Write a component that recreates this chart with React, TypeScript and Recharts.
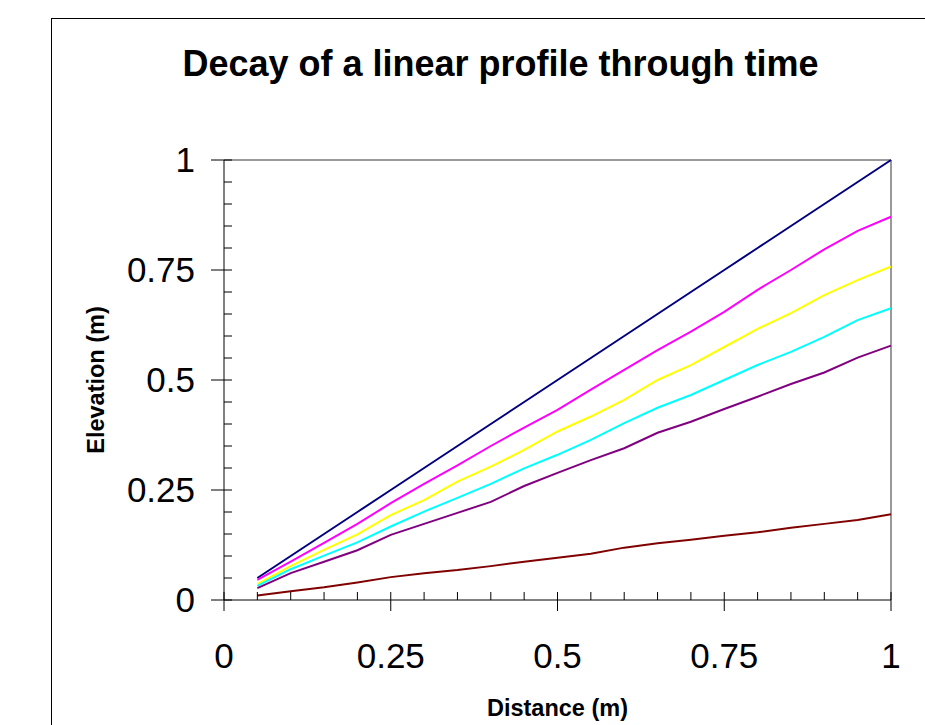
import React from "react";
import { LineChart, Line, XAxis, YAxis, ReferenceLine } from "recharts";

const distance = [0.05, 0.1, 0.15, 0.2, 0.25, 0.3, 0.35, 0.4, 0.45, 0.5, 0.55, 0.6, 0.65, 0.7, 0.75, 0.8, 0.85, 0.9, 0.95, 1];

const profileT0 = [0.05, 0.1, 0.15, 0.2, 0.25, 0.3, 0.35, 0.4, 0.45, 0.5, 0.55, 0.6, 0.65, 0.7, 0.75, 0.8, 0.85, 0.9, 0.95, 1];
const profileT1 = [0.046, 0.087, 0.13, 0.173, 0.22, 0.264, 0.306, 0.35, 0.392, 0.432, 0.478, 0.523, 0.568, 0.61, 0.655, 0.705, 0.75, 0.797, 0.839, 0.871];
const profileT2 = [0.036, 0.077, 0.114, 0.149, 0.193, 0.227, 0.269, 0.303, 0.341, 0.383, 0.417, 0.455, 0.5, 0.534, 0.575, 0.616, 0.652, 0.693, 0.727, 0.758];
const profileT3 = [0.032, 0.07, 0.101, 0.131, 0.167, 0.201, 0.232, 0.264, 0.299, 0.33, 0.364, 0.402, 0.437, 0.466, 0.5, 0.534, 0.564, 0.598, 0.636, 0.663];
const profileT4 = [0.027, 0.061, 0.087, 0.113, 0.148, 0.173, 0.198, 0.223, 0.259, 0.289, 0.318, 0.345, 0.38, 0.405, 0.434, 0.462, 0.491, 0.517, 0.551, 0.578];
const profileT5 = [0.01, 0.02, 0.029, 0.04, 0.052, 0.061, 0.068, 0.077, 0.087, 0.096, 0.105, 0.119, 0.129, 0.137, 0.146, 0.154, 0.164, 0.173, 0.182, 0.195];

const axisTicks = [0, 0.05, 0.1, 0.15, 0.2, 0.25, 0.3, 0.35, 0.4, 0.45, 0.5, 0.55, 0.6, 0.65, 0.7, 0.75, 0.8, 0.85, 0.9, 0.95, 1];
const majorTicks = [0, 0.25, 0.5, 0.75, 1];
const majorLabels = ["0", "0.25", "0.5", "0.75", "1"];

const series = [
  { key: "t0", values: profileT0, color: "#000080" },
  { key: "t1", values: profileT1, color: "#FF00FF" },
  { key: "t2", values: profileT2, color: "#FFFF00" },
  { key: "t3", values: profileT3, color: "#00FFFF" },
  { key: "t4", values: profileT4, color: "#800080" },
  { key: "t5", values: profileT5, color: "#800000" },
];

const data = distance.map((x, i) => {
  const row: Record<string, number> = { x };
  series.forEach((s) => {
    row[s.key] = s.values[i];
  });
  return row;
});

const FONT = "'Liberation Sans', Arial, sans-serif";

function majorIndex(v: number) {
  return majorTicks.findIndex((m) => Math.abs(m - v) < 1e-6);
}

function XTick(props: any) {
  const { x, y, payload } = props;
  const idx = majorIndex(payload.value);
  return (
    <g>
      <line x1={x} x2={x} y1={y - 8} y2={idx >= 0 ? y + 11 : y} stroke="#000" strokeWidth={1} />
      {idx >= 0 && (
        <text x={x} y={y + 68} textAnchor="middle" fontSize={35} fontFamily={FONT} fill="#000">
          {majorLabels[idx]}
        </text>
      )}
    </g>
  );
}

function YTick(props: any) {
  const { x, y, payload } = props;
  const idx = majorIndex(payload.value);
  return (
    <g>
      <line x1={idx >= 0 ? x - 13 : x} x2={x + 8} y1={y} y2={y} stroke="#000" strokeWidth={1} />
      {idx >= 0 && (
        <text x={x - 29} y={y} dy="0.355em" textAnchor="end" fontSize={35} fontFamily={FONT} fill="#000">
          {majorLabels[idx]}
        </text>
      )}
    </g>
  );
}

export default function App() {
  return (
    <div style={{ position: "fixed", left: 0, top: 0, width: 925, height: 725, background: "#fff", overflow: "hidden" }}>
      <div
        style={{
          position: "absolute",
          left: 51,
          top: 18,
          right: -2,
          bottom: -2,
          borderLeft: "1px solid #000",
          borderTop: "1px solid #000",
        }}
      />
      <div style={{ position: "absolute", left: 0, top: 0 }}>
        <LineChart width={925} height={725} data={data} margin={{ top: 160, right: 34, bottom: 25, left: 144 }}>
          <XAxis
            dataKey="x"
            type="number"
            domain={[0, 1]}
            ticks={axisTicks}
            interval={0}
            tickSize={0}
            tickMargin={0}
            tickLine={false}
            tick={<XTick />}
            height={100}
            axisLine={{ stroke: "#000", strokeWidth: 1 }}
          />
          <YAxis
            type="number"
            domain={[0, 1]}
            ticks={axisTicks}
            interval={0}
            tickSize={0}
            tickMargin={0}
            tickLine={false}
            tick={<YTick />}
            width={80}
            axisLine={{ stroke: "#000", strokeWidth: 1 }}
          />
          <ReferenceLine y={1} stroke="#999" strokeWidth={2} />
          <ReferenceLine x={1} stroke="#999" strokeWidth={2} />
          {series.map((s) => (
            <Line
              key={s.key}
              dataKey={s.key}
              type="linear"
              stroke={s.color}
              strokeWidth={2}
              dot={false}
              activeDot={false}
              isAnimationActive={false}
            />
          ))}
        </LineChart>
      </div>
      <svg width={925} height={725} style={{ position: "absolute", left: 0, top: 0, pointerEvents: "none" }}>
        <text x={500.5} y={76} textAnchor="middle" fontSize={36} fontWeight="bold" fontFamily={FONT} fill="#000">
          Decay of a linear profile through time
        </text>
        <text x={557.5} y={716} textAnchor="middle" fontSize={23.5} fontWeight="bold" fontFamily={FONT} fill="#000">
          Distance (m)
        </text>
        <text
          x={0}
          y={0}
          transform="translate(104,380) rotate(-90)"
          textAnchor="middle"
          fontSize={23.5}
          fontWeight="bold"
          fontFamily={FONT}
          fill="#000"
        >
          Elevation (m)
        </text>
      </svg>
    </div>
  );
}
